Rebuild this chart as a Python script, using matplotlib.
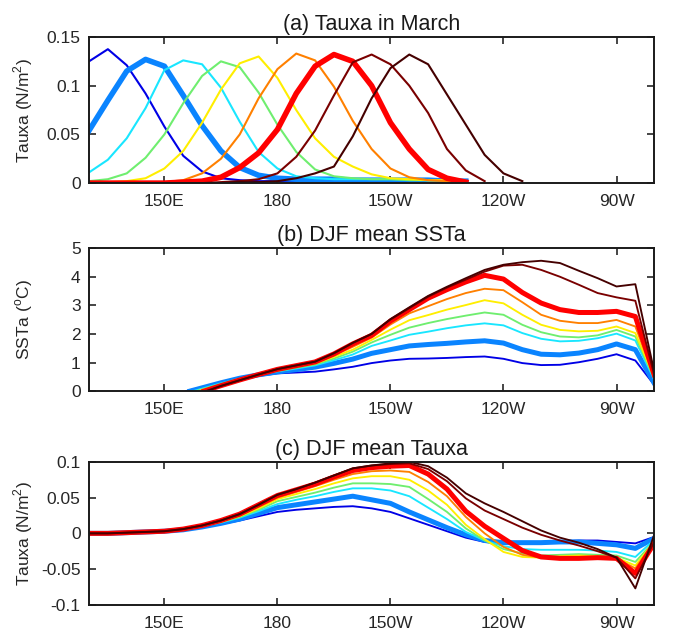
from matplotlib import pyplot as plt
import numpy as np

plt.rcParams['font.family'] = ['Liberation Sans', 'DejaVu Sans']
plt.rcParams['mathtext.fontset'] = 'custom'
plt.rcParams['mathtext.rm'] = 'Liberation Sans'

nan = np.nan

# (a) Tauxa in March, 9 experiments (wind patch shifted east)
lon_a = [130, 135, 140, 145, 150, 155, 160, 165, 170, 175, 180, 185, 190,
         195, 200, 205, 210, 215, 220, 225, 230, 235, 240, 245, 250]
taux_mar = [
    [0.125, 0.1375, 0.121, 0.092, 0.058, 0.028, 0.012, 0.005, 0.003, 0.002, 0.002, 0.002, 0.002,
     0.002, 0.002, 0.002, 0.002, 0.002, 0.002, 0.002, 0.001, nan, nan, nan, nan],
    [0.054, 0.085, 0.115, 0.127, 0.120, 0.090, 0.059, 0.033, 0.016, 0.008, 0.005, 0.004, 0.004,
     0.004, 0.003, 0.003, 0.003, 0.003, 0.003, 0.002, 0.002, nan, nan, nan, nan],
    [0.011, 0.024, 0.046, 0.077, 0.116, 0.126, 0.122, 0.098, 0.063, 0.032, 0.015, 0.007, 0.005,
     0.004, 0.004, 0.004, 0.004, 0.004, 0.003, 0.003, 0.002, nan, nan, nan, nan],
    [0.002, 0.004, 0.010, 0.026, 0.050, 0.082, 0.110, 0.125, 0.119, 0.093, 0.060, 0.032, 0.014,
     0.007, 0.005, 0.004, 0.004, 0.003, 0.003, 0.003, 0.002, nan, nan, nan, nan],
    [0.0, 0.001, 0.002, 0.005, 0.015, 0.033, 0.062, 0.096, 0.123, 0.130, 0.108, 0.075, 0.046,
     0.027, 0.017, 0.009, 0.005, 0.004, 0.003, 0.003, 0.002, nan, nan, nan, nan],
    [0.0, 0.0, 0.0, 0.001, 0.001, 0.003, 0.010, 0.025, 0.050, 0.087, 0.117, 0.133, 0.126,
     0.099, 0.064, 0.035, 0.015, 0.006, 0.003, 0.002, 0.001, nan, nan, nan, nan],
    [0.0, 0.0, 0.0, 0.0, 0.0, 0.001, 0.002, 0.006, 0.016, 0.031, 0.055, 0.092, 0.120,
     0.132, 0.125, 0.100, 0.062, 0.035, 0.014, 0.005, 0.001, nan, nan, nan, nan],
    [0.0, 0.0, 0.0, 0.0, 0.0, 0.0, 0.0, 0.001, 0.002, 0.004, 0.010, 0.027, 0.054,
     0.090, 0.124, 0.132, 0.122, 0.100, 0.072, 0.035, 0.013, 0.002, nan, nan, nan],
    [0.0, 0.0, 0.0, 0.0, 0.0, 0.0, 0.0, 0.0, 0.001, 0.001, 0.002, 0.005, 0.010,
     0.017, 0.048, 0.087, 0.118, 0.132, 0.122, 0.091, 0.060, 0.029, 0.010, 0.002, nan],
]

# (b) DJF mean SSTa; each line begins at its own zero crossing
sst_start = [155.7, 156.8, 157.7, 158.4, 159.0, 159.8, 160.5, 161.0, 161.2]
lon_b = [165, 170, 175, 180, 185, 190, 195, 200, 205, 210, 215, 220,
         225, 230, 235, 240, 245, 250, 255, 260, 265, 270, 275, 280]
ssta_djf = [
    [0.28, 0.42, 0.53, 0.62, 0.65, 0.68, 0.76, 0.85, 0.98, 1.07, 1.13, 1.14,
     1.16, 1.19, 1.21, 1.13, 0.98, 0.91, 0.92, 1.01, 1.13, 1.29, 1.07, 0.22],
    [0.29, 0.45, 0.57, 0.67, 0.75, 0.84, 0.97, 1.12, 1.32, 1.45, 1.58, 1.63,
     1.67, 1.72, 1.76, 1.68, 1.45, 1.29, 1.27, 1.33, 1.45, 1.65, 1.45, 0.28],
    [0.27, 0.44, 0.58, 0.69, 0.79, 0.90, 1.08, 1.28, 1.58, 1.77, 1.97, 2.08,
     2.20, 2.30, 2.37, 2.30, 2.03, 1.83, 1.74, 1.76, 1.85, 2.01, 1.77, 0.40],
    [0.25, 0.43, 0.58, 0.70, 0.82, 0.93, 1.14, 1.38, 1.70, 1.97, 2.22, 2.38,
     2.52, 2.64, 2.75, 2.67, 2.32, 2.06, 1.91, 1.88, 1.95, 2.14, 1.91, 0.45],
    [0.23, 0.42, 0.58, 0.72, 0.85, 0.96, 1.20, 1.45, 1.79, 2.15, 2.48, 2.66,
     2.85, 3.01, 3.18, 3.07, 2.67, 2.32, 2.14, 2.09, 2.11, 2.26, 2.03, 0.48],
    [0.21, 0.40, 0.58, 0.74, 0.87, 0.99, 1.25, 1.55, 1.87, 2.33, 2.72, 2.97,
     3.22, 3.43, 3.58, 3.53, 3.11, 2.67, 2.46, 2.38, 2.38, 2.49, 2.26, 0.51],
    [0.19, 0.39, 0.58, 0.76, 0.89, 1.02, 1.30, 1.65, 1.95, 2.45, 2.85, 3.25,
     3.55, 3.82, 4.05, 3.92, 3.45, 3.08, 2.85, 2.75, 2.75, 2.79, 2.61, 0.57],
    [0.18, 0.38, 0.58, 0.77, 0.90, 1.03, 1.32, 1.68, 2.00, 2.50, 2.90, 3.30,
     3.62, 3.90, 4.18, 4.39, 4.42, 4.24, 4.00, 3.72, 3.43, 3.28, 3.16, 0.57],
    [0.18, 0.38, 0.58, 0.77, 0.90, 1.03, 1.33, 1.69, 2.00, 2.52, 2.93, 3.33,
     3.65, 3.95, 4.24, 4.42, 4.51, 4.56, 4.48, 4.21, 3.95, 3.66, 3.74, 0.69],
]

# (c) DJF mean Tauxa
lon_c = [130, 135, 140, 145, 150, 155, 160, 165, 170, 175, 180, 185, 190, 195, 200, 205,
         210, 215, 220, 225, 230, 235, 240, 245, 250, 255, 260, 265, 270, 275, 280]
taux_djf = [
    [0, 0, 0.001, 0.002, 0.003, 0.005, 0.009, 0.013, 0.018, 0.024, 0.030, 0.033, 0.035, 0.037, 0.038, 0.035,
     0.030, 0.021, 0.012, 0.003, -0.006, -0.012, -0.014, -0.013, -0.012, -0.011, -0.010, -0.010, -0.012, -0.014, -0.005],
    [0, 0, 0.001, 0.002, 0.003, 0.005, 0.009, 0.014, 0.020, 0.028, 0.036, 0.040, 0.044, 0.048, 0.052, 0.047,
     0.042, 0.030, 0.019, 0.008, -0.002, -0.010, -0.013, -0.013, -0.013, -0.012, -0.012, -0.014, -0.016, -0.021, -0.007],
    [0, 0, 0.001, 0.002, 0.003, 0.006, 0.010, 0.015, 0.022, 0.031, 0.041, 0.047, 0.052, 0.058, 0.063, 0.063,
     0.060, 0.052, 0.036, 0.020, 0.002, -0.010, -0.018, -0.022, -0.023, -0.023, -0.023, -0.024, -0.026, -0.033, -0.009],
    [0, 0, 0.001, 0.002, 0.003, 0.006, 0.010, 0.016, 0.023, 0.033, 0.045, 0.051, 0.057, 0.064, 0.070, 0.070,
     0.069, 0.065, 0.048, 0.030, 0.007, -0.010, -0.022, -0.028, -0.031, -0.030, -0.029, -0.030, -0.031, -0.040, -0.011],
    [0, 0, 0.001, 0.002, 0.003, 0.006, 0.010, 0.016, 0.024, 0.035, 0.048, 0.055, 0.062, 0.070, 0.077, 0.080,
     0.080, 0.075, 0.060, 0.040, 0.012, -0.008, -0.026, -0.033, -0.034, -0.032, -0.031, -0.032, -0.034, -0.045, -0.012],
    [0, 0, 0.001, 0.002, 0.003, 0.006, 0.010, 0.017, 0.025, 0.037, 0.050, 0.058, 0.066, 0.075, 0.083, 0.087,
     0.088, 0.086, 0.072, 0.052, 0.023, 0.000, -0.019, -0.030, -0.034, -0.035, -0.035, -0.035, -0.035, -0.049, -0.012],
    [0, 0, 0.001, 0.002, 0.003, 0.006, 0.011, 0.018, 0.027, 0.040, 0.053, 0.061, 0.069, 0.079, 0.088, 0.092,
     0.094, 0.095, 0.083, 0.062, 0.031, 0.010, -0.007, -0.024, -0.033, -0.035, -0.035, -0.034, -0.035, -0.056, -0.014],
    [0, 0, 0.001, 0.002, 0.003, 0.006, 0.011, 0.018, 0.027, 0.040, 0.054, 0.062, 0.071, 0.081, 0.091, 0.095,
     0.097, 0.098, 0.090, 0.073, 0.049, 0.032, 0.020, 0.008, -0.002, -0.010, -0.017, -0.025, -0.034, -0.063, -0.012],
    [0, 0, 0.001, 0.002, 0.003, 0.006, 0.011, 0.018, 0.027, 0.040, 0.054, 0.062, 0.071, 0.081, 0.091, 0.095,
     0.098, 0.100, 0.094, 0.078, 0.056, 0.042, 0.030, 0.017, 0.004, -0.006, -0.013, -0.022, -0.034, -0.077, -0.002],
]

colors = ['#0000e6', '#0a84ff', '#19e6ff', '#6fee6f', '#ffee00', '#ff8000', '#ff0000', '#7a0000', '#450000']
widths = [1.5, 4, 1.5, 1.5, 1.5, 1.5, 4, 1.5, 1.5]

xticks = [150, 180, 210, 240, 270]
xticklabels = ['150E', '180', '150W', '120W', '90W']

fig = plt.figure(figsize=(6.85, 6.38), dpi=100)
ax1 = fig.add_axes([0.130, 0.713, 0.825, 0.229])
ax2 = fig.add_axes([0.130, 0.387, 0.825, 0.224])
ax3 = fig.add_axes([0.130, 0.052, 0.825, 0.224])

for i in range(9):
    ax1.plot(lon_a, taux_mar[i], color=colors[i], lw=widths[i], solid_joinstyle='round')
    ax2.plot([sst_start[i]] + lon_b, [0] + ssta_djf[i], color=colors[i], lw=widths[i] * 0.9,
             solid_joinstyle='round')
    ax3.plot(lon_c, taux_djf[i], color=colors[i], lw=widths[i] * 0.9, solid_joinstyle='round')

ax1.set_ylim(0, 0.15)
ax1.set_yticks([0, 0.05, 0.1, 0.15])
ax1.set_yticklabels(['0', '0.05', '0.1', '0.15'])
ax1.set_title('(a) Tauxa in March', fontsize=15.5, pad=5, color='#1a1a1a')
ax1.set_ylabel('Tauxa (N/m$^2$)', fontsize=12.5, color='#262626')

ax2.set_ylim(0, 5)
ax2.set_yticks([0, 1, 2, 3, 4, 5])
ax2.set_title('(b) DJF mean SSTa', fontsize=15.5, pad=5, color='#1a1a1a')
ax2.set_ylabel('SSTa ($^{\\rm o}$C)', fontsize=12.5, color='#262626')

ax3.set_ylim(-0.1, 0.1)
ax3.set_yticks([-0.1, -0.05, 0, 0.05, 0.1])
ax3.set_yticklabels(['-0.1', '-0.05', '0', '0.05', '0.1'])
ax3.set_title('(c) DJF mean Tauxa', fontsize=15.5, pad=5, color='#1a1a1a')
ax3.set_ylabel('Tauxa (N/m$^2$)', fontsize=12.5, color='#262626')

for ax in [ax1, ax2, ax3]:
    ax.set_xlim(130, 280)
    ax.set_xticks(xticks)
    ax.set_xticklabels(xticklabels)
    ax.tick_params(direction='in', top=True, right=True, length=5, width=1.2,
                   labelsize=12.5, colors='#262626')
    ax.tick_params(axis='x', pad=8)
    ax.tick_params(axis='y', pad=6)
    for s in ax.spines.values():
        s.set_linewidth(1.4)
        s.set_color('#1a1a1a')
    ax.yaxis.set_label_coords(-0.095, 0.5)

plt.savefig('out.png', dpi=100)
